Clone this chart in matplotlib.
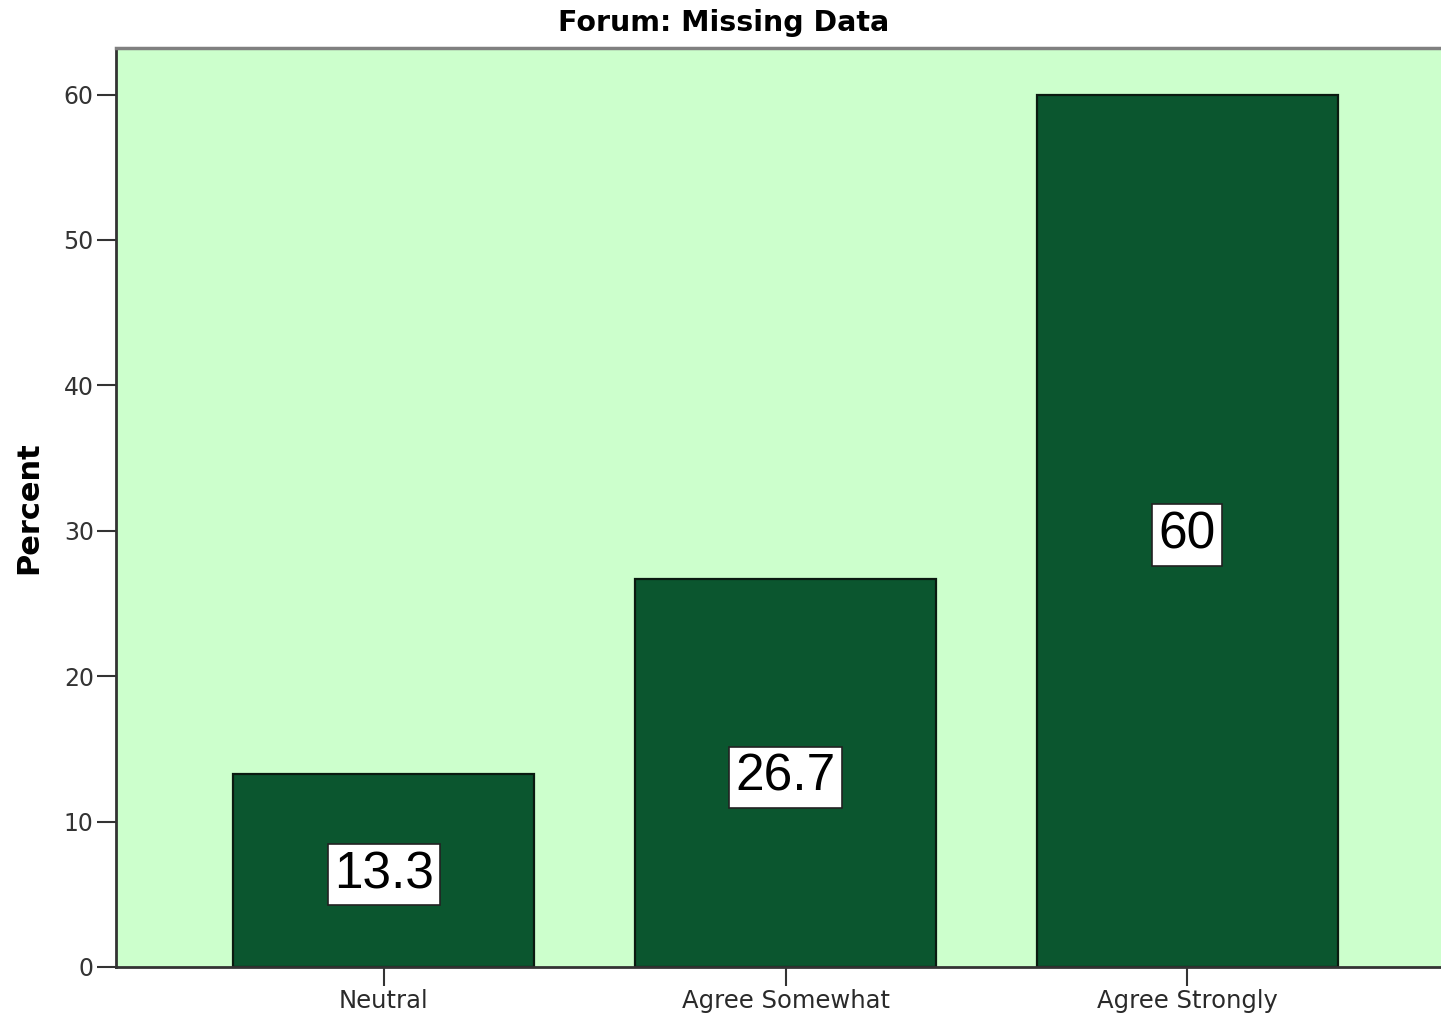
import matplotlib
matplotlib.use("Agg")
import matplotlib.pyplot as plt

# data
categories = ["Neutral", "Agree Somewhat", "Agree Strongly"]
percents = [13.3, 26.7, 60]
value_labels = ["13.3", "26.7", "60"]
y_ticks = [0, 10, 20, 30, 40, 50, 60]

W, H = 1441, 1014
fig = plt.figure(figsize=(W / 100, H / 100), dpi=100)
ax = fig.add_axes([116 / W, (H - 967) / H, (1455 - 116) / W, (967 - 48) / H])

ax.set_facecolor("#ccffcc")
x = list(range(len(categories)))
ax.bar(x, percents, width=0.75, color="#0b562f", edgecolor="#0a1a10", linewidth=1.6, zorder=2)

# value labels in white boxes, centred at half bar height
for xi, v, lab in zip(x, percents, value_labels):
    ax.text(xi, v / 2 - 0.3, lab, ha="center", va="center", fontsize=37,
            family="Liberation Sans", color="black", zorder=3,
            bbox=dict(boxstyle="square,pad=0.12", facecolor="white",
                      edgecolor="#222222", linewidth=1.2))

ax.set_xlim(-0.667, 2.667)
ax.set_ylim(0, 63.2)
ax.set_xticks(x)
ax.set_xticklabels(categories, fontsize=17.5, color="#2a2a2a")
ax.set_yticks(y_ticks)
ax.set_yticklabels([str(t) for t in y_ticks], fontsize=17, color="#333333")
ax.tick_params(axis="both", direction="out", length=14, width=1.5, color="#333333", pad=2)

for s in ["left", "bottom"]:
    ax.spines[s].set_color("#333333")
    ax.spines[s].set_linewidth(2)
ax.spines["top"].set_color("#808080")
ax.spines["top"].set_linewidth(2.5)
ax.spines["right"].set_visible(False)

ax.set_ylabel("Percent", fontsize=22, fontweight="bold")
ax.yaxis.set_label_coords(-0.054, 0.5)
fig.text(724 / W, 1 - 23 / H, "Forum: Missing Data", ha="center", va="center",
         fontsize=20.5, fontweight="bold")

fig.savefig("out.png", dpi=100)
